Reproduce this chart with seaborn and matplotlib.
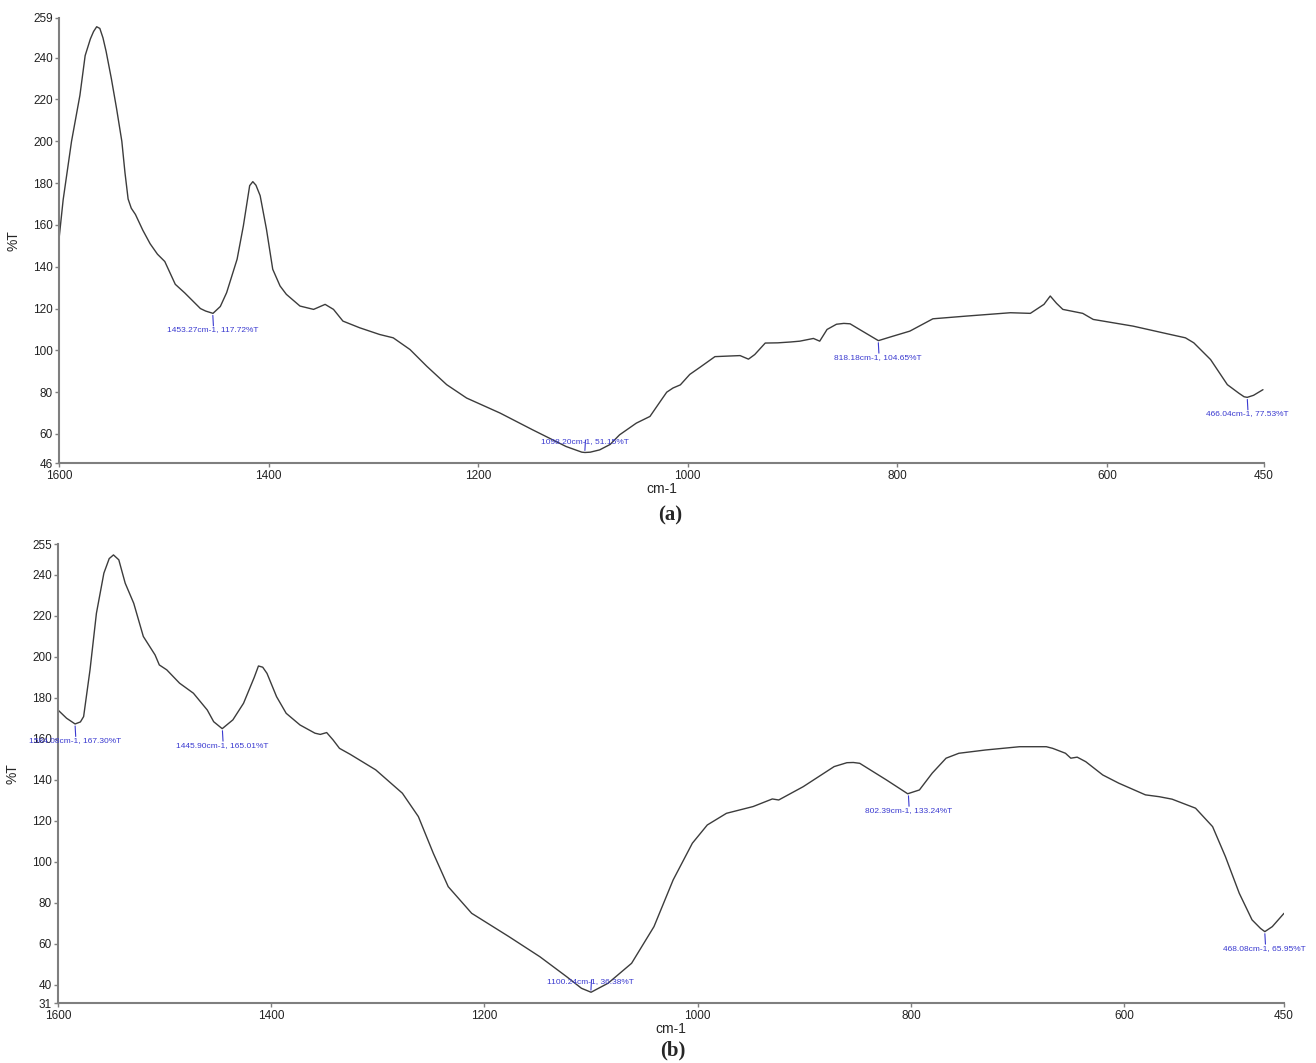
import seaborn as sns
import matplotlib.pyplot as plt
import pandas as pd

sns.set_style("ticks")
plt.rcParams['font.family'] = ['Liberation Sans', 'DejaVu Sans']

# panel (a) spectrum
wn_a = [1600, 1596, 1588, 1580, 1575, 1570, 1567, 1564, 1561, 1558, 1555, 1550, 1545,
        1540, 1537, 1534, 1531, 1527, 1520, 1513, 1506, 1499, 1489, 1480, 1470, 1465,
        1460, 1453, 1446, 1440, 1430, 1424, 1418, 1415, 1412, 1408, 1402, 1396, 1389,
        1383, 1370, 1357, 1346, 1338, 1329, 1313, 1294, 1281, 1265, 1249, 1230, 1211,
        1179, 1148, 1116, 1101, 1098, 1093, 1084, 1074, 1065, 1049, 1036, 1025, 1020,
        1014, 1007, 998, 988, 974, 960, 950, 942, 936, 926, 914, 902, 893, 880, 874,
        867, 858, 851, 845, 836, 818, 806, 788, 766, 734, 692, 673, 660, 654, 648,
        642, 623, 613, 575, 543, 525, 517, 501, 485, 474, 469, 466, 460, 451]
t_a = [153, 172, 200, 222, 241, 249, 252.5, 254.8, 254, 249.5, 243, 230, 215.6,
       200, 185, 172.4, 168, 165, 157.5, 151, 146, 142.5, 131.6, 127.5, 122.5, 120,
       118.8, 117.7, 121, 127.6, 143.6, 159.6, 178.8, 180.7, 179, 174, 158, 138.8, 130.8,
       126.8, 121.2, 119.6, 122, 119.6, 114, 110.8, 107.6, 106, 100.4, 92.4, 83.6, 77.2,
       70, 62, 54, 51.3, 51.15, 51.3, 52.4, 55, 59.6, 65.2, 68.4, 76.4, 80,
       82, 83.5, 88.5, 92, 97, 97.3, 97.5, 95.8, 98, 103.5, 103.6, 104, 104.4, 105.7, 104.4,
       110, 112.5, 112.9, 112.7, 110, 104.65, 106.5, 109.2, 115.1, 116.4, 118, 117.7, 122, 126, 122.5,
       119.6, 117.7, 114.8, 111.6, 108, 106, 103.6, 95.6, 83.6, 79.5, 77.8, 77.53, 78.5, 81.2]

# panel (b) spectrum
wn_b = [1600, 1592, 1584, 1579, 1576, 1570, 1564, 1557, 1552, 1548, 1543, 1537, 1529,
        1520, 1509, 1505, 1498, 1486, 1473, 1460, 1454, 1446, 1436, 1426, 1416, 1412,
        1408, 1404, 1395, 1386, 1373, 1359, 1354, 1348, 1342, 1336, 1326, 1302, 1277,
        1262, 1248, 1234, 1212, 1177, 1148, 1123, 1109, 1100, 1084, 1062, 1041,
        1023, 1005, 991, 973, 948, 930, 924, 901, 872, 860, 854, 848, 823, 803, 792,
        780, 767, 755, 730, 698, 673, 667, 655, 650, 644, 636, 620, 605, 580,
        567, 555, 533, 517, 505, 492, 480, 472, 468, 461, 450]
t_b = [174.1, 170.1, 167.3, 168.3, 170.9, 193.7, 221.3, 240.9, 248, 249.8, 247.4, 236, 226.2,
       210, 201, 196.1, 193.7, 187.2, 182.3, 174.1, 168.4, 165.0, 169.3, 177.4, 190, 195.6,
       195, 192, 180.6, 172.5, 166.8, 162.8, 162.2, 163.1, 159.5, 155.4, 152.5, 144.9, 133.5,
       122.1, 104.2, 87.9, 74.9, 63.5, 53.7, 44, 38.3, 36.38, 40.8, 50.5, 68.4,
       91.2, 109.1, 118, 123.7, 127, 130.7, 130.2, 136.7, 146.5, 148.4, 148.5, 148.1, 140, 133.24, 135.1,
       143.3, 150.6, 153, 154.6, 156.2, 156.2, 155.4, 153, 150.6, 151.1, 148.9, 142.4, 138.4, 132.7,
       131.8, 130.6, 126.2, 117.2, 102.6, 84.7, 71.7, 67.5, 65.95, 68.4, 74.9]

# peak picks: (wavenumber, %T, label below?)
peaks_a = [(1453.27, 117.72, True), (1098.20, 51.15, False),
           (818.18, 104.65, True), (466.04, 77.53, True)]
peaks_b = [(1584.08, 167.30, True), (1445.90, 165.01, True), (1100.24, 36.38, False),
           (802.39, 133.24, True), (468.08, 65.95, True)]

yticks_a = [46, 60, 80, 100, 120, 140, 160, 180, 200, 220, 240, 259]
yticks_b = [31, 40, 60, 80, 100, 120, 140, 160, 180, 200, 220, 240, 255]
xticks = [1600, 1400, 1200, 1000, 800, 600, 450]

BLUE = '#3a3ad0'
GREY = '#7f7f7f'

fig = plt.figure(figsize=(13.16, 10.63), dpi=100)
ax_a = fig.add_axes([0.0448, 0.5642, 0.9157, 0.4189])
ax_b = fig.add_axes([0.0441, 0.0562, 0.9316, 0.4318])


def draw_panel(ax, wn, t, peaks, yticks):
    df = pd.DataFrame({"wn": wn, "t": t})
    sns.lineplot(ax=ax, data=df, x="wn", y="t", color="#3c3c3c", linewidth=1.0,
                 estimator=None, sort=False)
    ax.set_xlim(1600, 450)
    ax.set_ylim(yticks[0], yticks[-1])
    ax.set_xticks(xticks)
    ax.set_xticklabels([str(v) for v in xticks])
    ax.set_yticks(yticks)
    ax.set_yticklabels([str(v) for v in yticks])
    ax.tick_params(axis='both', labelsize=8.5, length=3, width=1, color=GREY, pad=1.5,
                   labelcolor='#222222')
    for s in ['top', 'right']:
        ax.spines[s].set_visible(False)
    for s in ['left', 'bottom']:
        ax.spines[s].set_color(GREY)
        ax.spines[s].set_linewidth(1.5)
    ax.set_xlabel("cm-1", fontsize=10, labelpad=0)
    ax.set_ylabel("%T", fontsize=10, labelpad=9)
    ax.patch.set_alpha(0)

    for x, y, below in peaks:
        sign = -1 if below else 1
        ax.annotate('', xy=(x, y), xytext=(0.5, sign * 9), textcoords='offset points',
                    arrowprops=dict(arrowstyle='-', color=BLUE, lw=0.8, shrinkA=0, shrinkB=1.5))
        ax.annotate(f"{x:.2f}cm-1, {y:.2f}%T", xy=(x, y),
                    xytext=(0, sign * (12 if below else 8)), textcoords='offset points',
                    ha='center', va='center', fontsize=6, color=BLUE)


draw_panel(ax_a, wn_a, t_a, peaks_a, yticks_a)
draw_panel(ax_b, wn_b, t_b, peaks_b, yticks_b)

fig.text(0.509, 0.515, "(a)", ha='center', va='center', fontsize=15, fontweight='bold',
         family=['Liberation Serif', 'DejaVu Serif'])
fig.text(0.511, 0.012, "(b)", ha='center', va='center', fontsize=15, fontweight='bold',
         family=['Liberation Serif', 'DejaVu Serif'])

fig.savefig("out.png", dpi=100)
